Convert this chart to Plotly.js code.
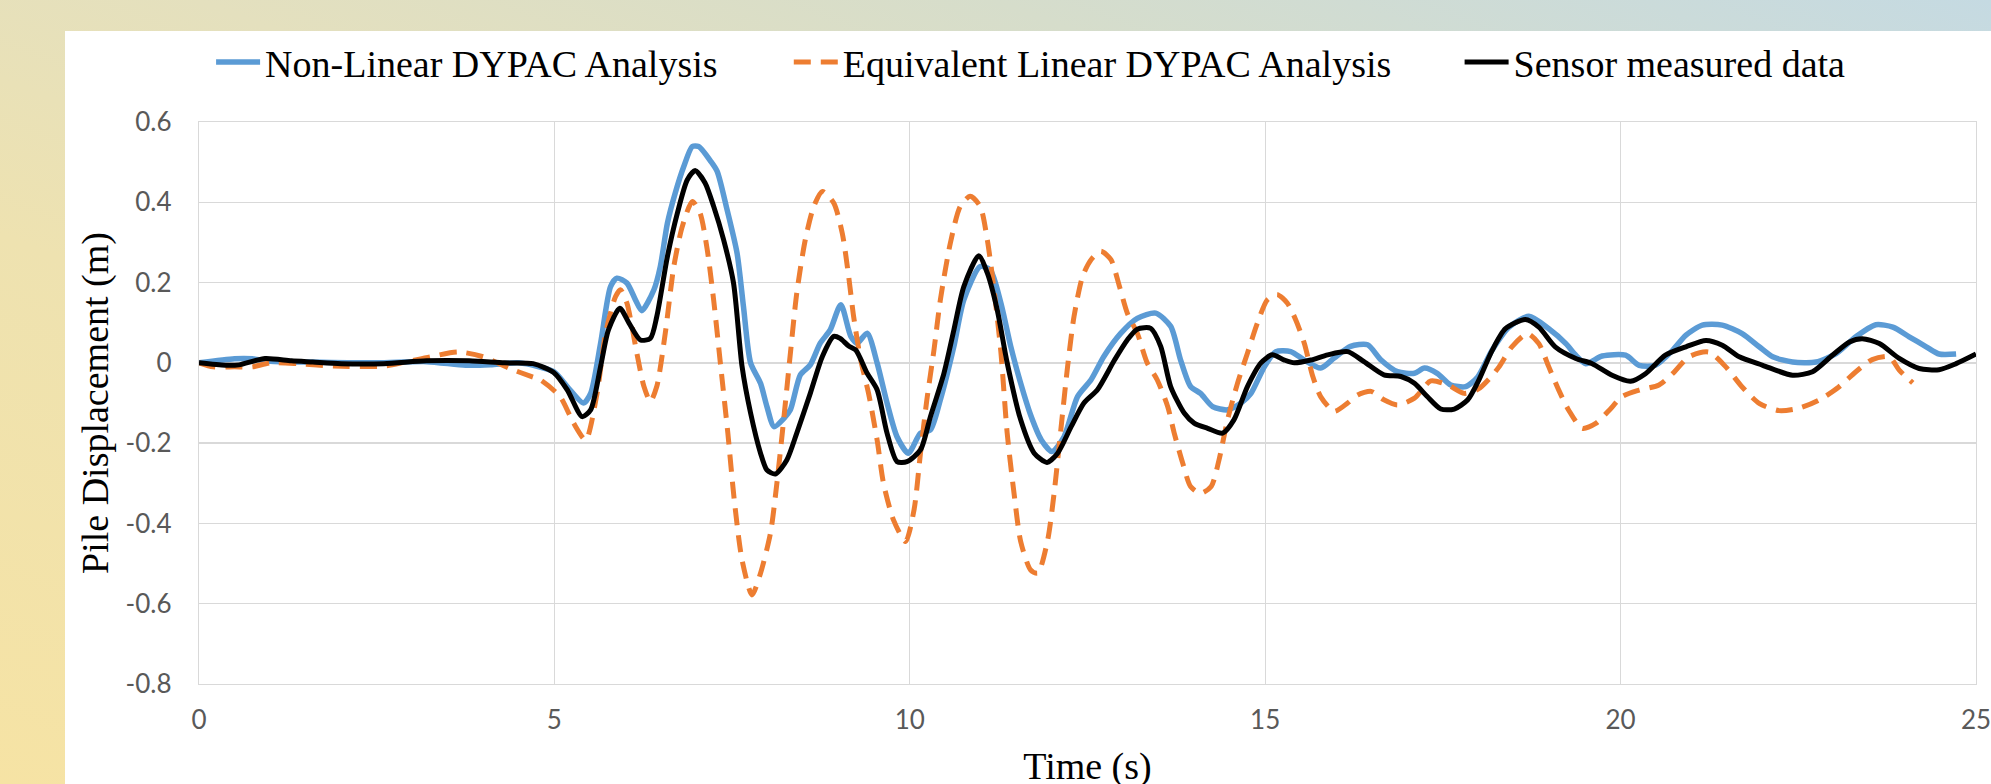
<!DOCTYPE html>
<html>
<head>
<meta charset="utf-8">
<script src="https://cdn.plot.ly/plotly-3.0.1.min.js"></script>
<style>
  html, body { margin: 0; padding: 0; width: 1991px; height: 784px; overflow: hidden; }
  body { background: linear-gradient(to top right, #F6E3A4 0%, #EEE2B0 35%, #E4E0BE 55%, #D6DDCB 75%, #C5DAE2 100%); }
  #chart { position: absolute; left: 65px; top: 31px; width: 1926px; height: 773px; }
</style>
</head>
<body>
<div id="chart"></div>
<script>
// ---- Data ----
const seriesNames = ["Non-Linear DYPAC Analysis", "Equivalent Linear DYPAC Analysis", "Sensor measured data"];

const tNonLinear = [0,0.5,0.75,1.0,1.6,2.5,3.2,3.75,4.1,4.5,4.99,5.18,5.41,5.51,5.65,5.79,5.88,6.02,6.14,6.23,6.4,6.49,6.59,6.7,6.82,6.94,7.03,7.2,7.29,7.43,7.57,7.66,7.76,7.9,7.99,8.09,8.23,8.32,8.46,8.6,8.74,8.88,9.03,9.17,9.26,9.4,9.54,9.68,9.82,9.98,10.15,10.29,10.43,10.62,10.76,10.99,11.13,11.28,11.42,11.56,11.7,11.85,12.0,12.17,12.36,12.55,12.73,12.97,13.2,13.46,13.67,13.81,13.95,14.09,14.26,14.47,14.66,14.8,14.99,15.15,15.36,15.55,15.78,15.97,16.2,16.44,16.63,16.86,17.1,17.24,17.42,17.61,17.82,17.99,18.19,18.43,18.71,18.99,19.23,19.37,19.51,19.74,20.07,20.26,20.49,20.73,20.92,21.15,21.43,21.71,21.95,22.14,22.42,22.75,23.03,23.31,23.59,23.83,24.06,24.3,24.48,24.72];
const vNonLinear = [0,0.01,0.01,0.004,0.002,0,0.003,-0.006,-0.005,0,-0.022,-0.059,-0.1,-0.076,0.049,0.19,0.211,0.199,0.157,0.13,0.182,0.24,0.348,0.423,0.489,0.539,0.539,0.502,0.477,0.381,0.273,0.14,0.0,-0.051,-0.109,-0.159,-0.138,-0.117,-0.03,-0.005,0.049,0.082,0.145,0.066,0.049,0.074,0,-0.1,-0.184,-0.225,-0.175,-0.167,-0.092,0.041,0.157,0.24,0.232,0.15,0.041,-0.051,-0.13,-0.192,-0.221,-0.184,-0.084,-0.042,0.016,0.074,0.111,0.124,0.091,0.007,-0.059,-0.076,-0.109,-0.117,-0.1,-0.076,-0.009,0.028,0.028,0.007,-0.013,0.012,0.041,0.045,0.007,-0.022,-0.026,-0.013,-0.026,-0.055,-0.059,-0.035,0.031,0.089,0.116,0.085,0.048,0.019,-0.002,0.017,0.019,-0.006,-0.006,0.031,0.069,0.094,0.094,0.073,0.04,0.015,0.002,0.002,0.023,0.065,0.095,0.089,0.065,0.04,0.022,0.022];

const tEquivalent = [0,0.2,0.5,0.75,1.0,1.4,1.9,2.6,2.9,3.25,3.65,4.0,4.37,4.69,4.8,5.08,5.27,5.44,5.6,5.72,5.86,5.93,6.02,6.16,6.26,6.35,6.44,6.56,6.68,6.8,6.94,7.05,7.15,7.24,7.34,7.44,7.53,7.64,7.78,7.9,8.04,8.13,8.23,8.32,8.41,8.53,8.65,8.77,8.93,9.05,9.14,9.21,9.31,9.42,9.54,9.63,9.77,9.94,10.06,10.15,10.24,10.34,10.43,10.57,10.71,10.85,10.99,11.09,11.18,11.28,11.37,11.47,11.56,11.7,11.8,11.94,12.03,12.12,12.22,12.31,12.43,12.55,12.69,12.83,12.95,13.06,13.2,13.34,13.48,13.63,13.72,13.84,13.95,14.09,14.24,14.35,14.47,14.61,14.75,14.89,15.03,15.17,15.31,15.43,15.55,15.67,15.78,15.97,16.16,16.3,16.49,16.67,16.86,17.1,17.33,17.57,17.8,18.0,18.15,18.29,18.47,18.69,18.85,18.99,19.13,19.27,19.46,19.65,19.84,20.02,20.26,20.54,20.73,20.96,21.24,21.48,21.71,21.95,22.23,22.51,22.79,23.07,23.31,23.54,23.78,23.92,24.11];
const vEquivalent = [0,-0.01,-0.01,-0.01,0,-0.002,-0.008,-0.008,0.002,0.015,0.027,0.015,-0.014,-0.035,-0.042,-0.084,-0.15,-0.192,-0.076,0.074,0.165,0.182,0.149,0.024,-0.059,-0.096,-0.059,0.074,0.24,0.34,0.402,0.373,0.282,0.157,-0.009,-0.175,-0.341,-0.491,-0.578,-0.524,-0.424,-0.3,-0.134,0.024,0.174,0.307,0.39,0.427,0.398,0.323,0.215,0.115,0.007,-0.076,-0.192,-0.3,-0.391,-0.445,-0.366,-0.225,-0.092,0.032,0.157,0.298,0.39,0.415,0.39,0.307,0.19,0.03,-0.175,-0.33,-0.445,-0.516,-0.524,-0.441,-0.325,-0.175,-0.009,0.115,0.215,0.257,0.278,0.257,0.19,0.124,0.074,0,-0.042,-0.11,-0.175,-0.25,-0.308,-0.325,-0.308,-0.242,-0.142,-0.051,0.024,0.099,0.157,0.17,0.149,0.107,0.049,-0.034,-0.084,-0.121,-0.1,-0.08,-0.071,-0.092,-0.105,-0.088,-0.045,-0.055,-0.076,-0.065,-0.04,-0.01,0.04,0.073,0.048,-0.01,-0.068,-0.118,-0.163,-0.151,-0.118,-0.084,-0.068,-0.055,-0.027,0.015,0.027,-0.01,-0.06,-0.101,-0.119,-0.113,-0.093,-0.06,-0.022,0.008,0.015,-0.018,-0.05];

const tSensor = [0,0.37,0.56,0.93,1.3,1.6,2.0,2.6,3.2,3.8,4.3,4.7,4.99,5.18,5.39,5.51,5.65,5.76,5.92,6.05,6.21,6.35,6.44,6.59,6.73,6.87,6.98,7.12,7.24,7.38,7.52,7.64,7.76,7.9,7.99,8.11,8.27,8.41,8.6,8.77,8.93,9.02,9.14,9.24,9.4,9.54,9.68,9.82,9.96,10.15,10.29,10.48,10.62,10.76,10.97,11.09,11.23,11.37,11.56,11.75,11.93,12.08,12.27,12.45,12.64,12.88,13.06,13.2,13.39,13.53,13.67,13.86,14.0,14.19,14.4,14.56,14.75,14.94,15.1,15.27,15.41,15.64,15.88,16.16,16.39,16.67,16.91,17.1,17.28,17.47,17.66,17.85,18.0,18.19,18.38,18.66,18.85,19.08,19.37,19.6,19.88,20.14,20.35,20.63,20.92,21.2,21.43,21.67,22.0,22.42,22.7,22.98,23.22,23.4,23.64,23.92,24.2,24.48,24.72,25.0];
const vSensor = [0,-0.006,-0.005,0.011,0.005,0.002,-0.002,-0.002,0.005,0.005,0,-0.002,-0.024,-0.067,-0.134,-0.117,-0.009,0.082,0.136,0.099,0.057,0.061,0.115,0.265,0.373,0.456,0.479,0.448,0.39,0.307,0.199,-0.009,-0.125,-0.225,-0.267,-0.277,-0.242,-0.175,-0.076,0.016,0.066,0.061,0.042,0.032,-0.026,-0.067,-0.175,-0.246,-0.246,-0.217,-0.134,-0.026,0.082,0.19,0.267,0.224,0.132,0.0,-0.142,-0.225,-0.248,-0.225,-0.159,-0.1,-0.067,0.007,0.057,0.084,0.086,0.041,-0.059,-0.125,-0.15,-0.163,-0.175,-0.142,-0.059,0,0.02,0.007,0,0.007,0.02,0.028,0.003,-0.03,-0.034,-0.051,-0.084,-0.115,-0.115,-0.092,-0.045,0.03,0.085,0.108,0.089,0.04,0.011,-0.002,-0.031,-0.046,-0.027,0.019,0.04,0.056,0.044,0.015,-0.006,-0.031,-0.022,0.019,0.052,0.06,0.048,0.011,-0.014,-0.017,-0.002,0.022];

const xTicks = [0, 5, 10, 15, 20, 25];
const yTicks = [-0.8, -0.6, -0.4, -0.2, 0, 0.2, 0.4, 0.6];
const yTickText = ["-0.8", "-0.6", "-0.4", "-0.2", "0", "0.2", "0.4", "0.6"];

// ---- Chart ----
const serif = "Liberation Serif, Times New Roman, serif";
const tickFont = { family: "Lato, Carlito, Calibri, sans-serif", size: 26, color: "#595959" };

const traces = [
  { x: tNonLinear, y: vNonLinear, name: seriesNames[0], type: "scatter", mode: "lines",
    line: { color: "#5B9BD5", width: 5.5, shape: "spline", smoothing: 0.7 }, legend: "legend" },
  { x: tEquivalent, y: vEquivalent, name: seriesNames[1], type: "scatter", mode: "lines",
    line: { color: "#ED7D31", width: 5, dash: "17px,10px", shape: "spline", smoothing: 0.7 }, legend: "legend2" },
  { x: tSensor, y: vSensor, name: seriesNames[2], type: "scatter", mode: "lines",
    line: { color: "#000000", width: 5, shape: "spline", smoothing: 0.7 }, legend: "legend3" }
];

function leg(x) {
  return { x: x, y: 0.9594, yref: "container", xanchor: "left", yanchor: "middle", orientation: "h",
    font: { family: serif, size: 38, color: "#000000" }, bgcolor: "rgba(0,0,0,0)",
    borderwidth: 0, itemwidth: 44 };
}

const layout = {
  width: 1926, height: 773,
  paper_bgcolor: "#FFFFFF", plot_bgcolor: "#FFFFFF",
  margin: { l: 134, r: 15, t: 91, b: 120, autoexpand: false },
  showlegend: true,
  legend: leg(0.0068),
  legend2: leg(0.3319),
  legend3: leg(0.7094),
  xaxis: {
    range: [0, 25], tickvals: xTicks, ticktext: xTicks.map(String),
    showgrid: true, gridcolor: "#D9D9D9", gridwidth: 1.3,
    showline: true, linecolor: "#D9D9D9", linewidth: 1.3, mirror: true,
    zeroline: false, ticks: "", tickfont: tickFont, ticklabelstandoff: 12,
    ticklabeloverflow: "allow",
    title: { text: "Time (s)", font: { family: serif, size: 38, color: "#000000" }, standoff: 19 }
  },
  yaxis: {
    range: [-0.8, 0.6], tickvals: yTicks, ticktext: yTickText,
    showgrid: true, gridcolor: "#D9D9D9", gridwidth: 1.3,
    showline: true, linecolor: "#D9D9D9", linewidth: 1.3, mirror: true,
    zeroline: false, ticks: "", tickfont: tickFont, ticklabelstandoff: 21,
    title: { text: "Pile Displacement (m)", font: { family: serif, size: 38, color: "#000000" }, standoff: 5 }
  }
};

Plotly.newPlot("chart", traces, layout, { displayModeBar: false, staticPlot: true });
</script>
</body>
</html>
